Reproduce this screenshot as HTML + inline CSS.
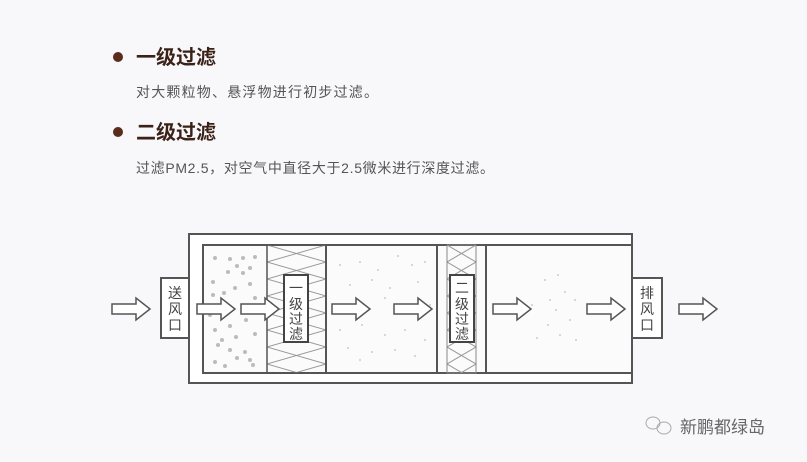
<!DOCTYPE html>
<html><head><meta charset="utf-8"><style>
body{margin:0;width:807px;height:462px;background:#f8f7f9;overflow:hidden;font-family:"Liberation Sans","Noto Sans CJK SC",sans-serif;}
svg{position:absolute;left:0;top:0}
</style></head><body>
<svg width="807" height="462" viewBox="0 0 807 462" xmlns="http://www.w3.org/2000/svg">
<defs>
<pattern id="hatch" x="267" y="245" width="59" height="17" patternUnits="userSpaceOnUse">
<path d="M0 0 L59 17 M59 0 L0 17" stroke="#999" stroke-width="1" fill="none"/>
</pattern>
<pattern id="hatch2" x="447" y="245" width="29" height="17" patternUnits="userSpaceOnUse">
<path d="M0 0 L29 17 M29 0 L0 17" stroke="#999" stroke-width="1" fill="none"/>
</pattern>
<g id="arr"><path d="M0 -5 H24 V-11 L38 0 L24 11 V5 H0 Z" fill="#fff" stroke="#555" stroke-width="1.5"/></g>
</defs>
<circle cx="118" cy="57" r="5" fill="#5a2c1c"/>
<text x="136" y="64" font-size="20" font-weight="bold" fill="#3a2218" font-family="Noto Sans CJK SC, sans-serif">一级过滤</text>
<text x="136" y="97" font-size="14" fill="#555" textLength="242" lengthAdjust="spacing">对大颗粒物、悬浮物进行初步过滤。</text>
<circle cx="118" cy="132" r="5" fill="#5a2c1c"/>
<text x="136" y="139" font-size="20" font-weight="bold" fill="#3a2218" font-family="Noto Sans CJK SC, sans-serif">二级过滤</text>
<text x="136" y="173" font-size="14" fill="#555" textLength="358" lengthAdjust="spacing">过滤PM2.5，对空气中直径大于2.5微米进行深度过滤。</text>

<rect x="189" y="234" width="443" height="149" fill="#fff" stroke="#555" stroke-width="2"/>
<rect x="203" y="245" width="429" height="128" fill="#fbfbfb" stroke="#555" stroke-width="2"/>
<rect x="267" y="245" width="59" height="128" fill="url(#hatch)" stroke="#555" stroke-width="1.5"/>
<line x1="326" y1="245" x2="326" y2="373" stroke="#555" stroke-width="2"/>
<line x1="437" y1="245" x2="437" y2="373" stroke="#555" stroke-width="2"/>
<rect x="447" y="245" width="29" height="128" fill="url(#hatch2)" stroke="#888" stroke-width="1"/>
<line x1="486" y1="245" x2="486" y2="373" stroke="#555" stroke-width="2"/>
<g fill="#bbb">
<circle cx="215" cy="258" r="2"/><circle cx="230" cy="259" r="2"/><circle cx="243" cy="258" r="2"/><circle cx="255" cy="257" r="2"/><circle cx="237" cy="266" r="2"/><circle cx="250" cy="268" r="2"/><circle cx="228" cy="272" r="2"/><circle cx="243" cy="273" r="2"/><circle cx="213" cy="282" r="2"/><circle cx="235" cy="288" r="2"/><circle cx="250" cy="284" r="2"/><circle cx="224" cy="293" r="2"/><circle cx="213" cy="295" r="2"/><circle cx="255" cy="298" r="2"/><circle cx="246" cy="320" r="2"/><circle cx="230" cy="326" r="2"/><circle cx="215" cy="330" r="2"/><circle cx="236" cy="337" r="2"/><circle cx="255" cy="334" r="2"/><circle cx="218" cy="345" r="2"/><circle cx="230" cy="350" r="2"/><circle cx="245" cy="352" r="2"/><circle cx="237" cy="358" r="2"/><circle cx="250" cy="360" r="2"/><circle cx="215" cy="362" r="2"/><circle cx="225" cy="366" r="2"/><circle cx="253" cy="365" r="2"/><circle cx="210" cy="315" r="2"/><circle cx="222" cy="340" r="2"/>
</g>
<g fill="#ccc">
<circle cx="340" cy="265" r="1"/><circle cx="360" cy="262" r="1"/><circle cx="378" cy="270" r="1"/><circle cx="398" cy="256" r="1"/><circle cx="412" cy="265" r="1"/><circle cx="425" cy="262" r="1"/><circle cx="350" cy="285" r="1"/><circle cx="372" cy="280" r="1"/><circle cx="390" cy="288" r="1"/><circle cx="418" cy="282" r="1"/><circle cx="340" cy="330" r="1"/><circle cx="362" cy="325" r="1"/><circle cx="385" cy="335" r="1"/><circle cx="405" cy="330" r="1"/><circle cx="425" cy="340" r="1"/><circle cx="348" cy="348" r="1"/><circle cx="372" cy="352" r="1"/><circle cx="395" cy="350" r="1"/><circle cx="415" cy="356" r="1"/><circle cx="360" cy="360" r="1"/><circle cx="385" cy="298" r="1"/><circle cx="430" cy="305" r="1"/>
<circle cx="545" cy="280" r="1"/><circle cx="558" cy="275" r="1"/><circle cx="565" cy="292" r="1"/><circle cx="550" cy="300" r="1"/><circle cx="570" cy="320" r="1"/><circle cx="548" cy="325" r="1"/><circle cx="560" cy="335" r="1"/><circle cx="576" cy="340" r="1"/><circle cx="537" cy="338" r="1"/><circle cx="575" cy="300" r="1"/><circle cx="532" cy="305" r="1"/><circle cx="556" cy="310" r="1"/>
</g>
<rect x="161" y="278" width="28" height="60" fill="#fff" stroke="#555" stroke-width="2"/>
<text x="175" y="298" font-size="14" fill="#444" text-anchor="middle">送</text>
<text x="175" y="314" font-size="14" fill="#444" text-anchor="middle">风</text>
<text x="175" y="330" font-size="14" fill="#444" text-anchor="middle">口</text>
<rect x="632" y="278" width="30" height="60" fill="#fff" stroke="#555" stroke-width="2"/>
<text x="647" y="298" font-size="14" fill="#444" text-anchor="middle">排</text>
<text x="647" y="314" font-size="14" fill="#444" text-anchor="middle">风</text>
<text x="647" y="330" font-size="14" fill="#444" text-anchor="middle">口</text>
<rect x="284" y="275" width="24" height="67" fill="#fff" stroke="#444" stroke-width="2"/>
<text x="296" y="293" font-size="14" fill="#444" text-anchor="middle">一</text>
<text x="296" y="309" font-size="14" fill="#444" text-anchor="middle">级</text>
<text x="296" y="324" font-size="14" fill="#444" text-anchor="middle">过</text>
<text x="296" y="339" font-size="14" fill="#444" text-anchor="middle">滤</text>
<rect x="450" y="275" width="24" height="67" fill="#fff" stroke="#444" stroke-width="2"/>
<text x="462" y="293" font-size="14" fill="#444" text-anchor="middle">二</text>
<text x="462" y="309" font-size="14" fill="#444" text-anchor="middle">级</text>
<text x="462" y="324" font-size="14" fill="#444" text-anchor="middle">过</text>
<text x="462" y="339" font-size="14" fill="#444" text-anchor="middle">滤</text>
<use href="#arr" x="112" y="309"/>
<use href="#arr" x="197" y="309"/>
<use href="#arr" x="241" y="309"/>
<use href="#arr" x="332" y="309"/>
<use href="#arr" x="394" y="309"/>
<use href="#arr" x="493" y="309"/>
<use href="#arr" x="587" y="309"/>
<use href="#arr" x="679" y="309"/>
<g fill="none" stroke="#aaa" stroke-width="1">
<ellipse cx="653" cy="423" rx="7" ry="6"/><ellipse cx="664" cy="428" rx="7" ry="6"/>
</g>
<text x="680" y="433" font-size="17" fill="#666">新鹏都绿岛</text>
</svg>
</body></html>
